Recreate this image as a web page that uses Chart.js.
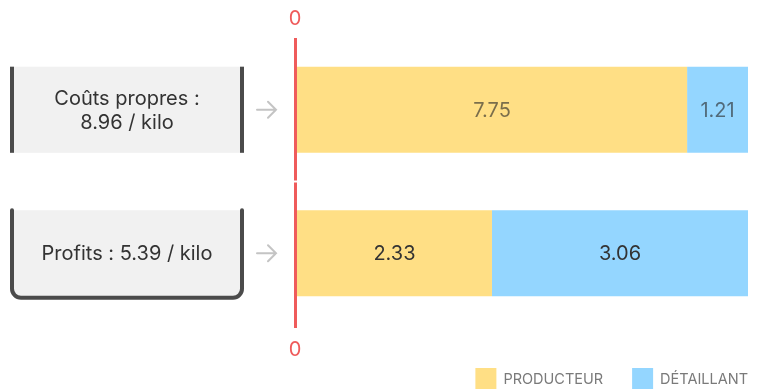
<!DOCTYPE html>
<html>
<head>
<meta charset="utf-8">
<script src="https://cdn.jsdelivr.net/npm/chart.js@4/dist/chart.umd.min.js"></script>
<style>
  html, body { margin: 0; padding: 0; background: #fff; }
  #wrap { width: 765px; height: 389px; position: relative; }
</style>
</head>
<body>
<div id="wrap"><canvas id="c"></canvas></div>
<script>
// Row categories and the text shown in the boxes on the left
const categories = ['Coûts propres', 'Profits'];
const boxLines = [['Coûts propres :', '8.96 / kilo'], ['Profits : 5.39 / kilo']];

// Values per kilo for each share
const producteur = [7.75, 2.33];
const detaillant = [1.21, 3.06];
const seriesNames = ['PRODUCTEUR', 'DÉTAILLANT'];

// Only the origin is labelled on the value axis (above and below the bars)
const axisTicks = [0];

const FONT = 'Inter, "Noto Sans", sans-serif';
const YELLOW = '#ffdf85';
const BLUE = '#94d6ff';
const RED = '#ef5b5b';

// Each row is shown as a 100% bar: segment length = share of the row total
const totals = producteur.map((v, i) => v + detaillant[i]);
const pct = arr => arr.map((v, i) => v / totals[i] * 100);
const rawValues = [producteur, detaillant];
const rowLabelColors = ['rgba(40,40,40,0.62)', '#333333'];

const decorPlugin = {
  id: 'decor',
  beforeDatasetsDraw(chart) {
    const { ctx, scales, chartArea } = chart;
    const xScale = scales.x;
    const x0 = xScale.getPixelForValue(0);
    const yScale = scales.y;
    const meta = chart.getDatasetMeta(0);

    ctx.save();
    // red origin line, one segment per category band
    ctx.fillStyle = RED;
    const half = (yScale.getPixelForValue(1) - yScale.getPixelForValue(0)) / 2;
    categories.forEach((c, i) => {
      const cy = yScale.getPixelForValue(i);
      const last = i === categories.length - 1;
      const top = cy - half + (i === 0 ? 0 : 1);
      const bot = cy + half + (last ? 3 : -1);
      ctx.fillRect(x0 - 3, top, 3, bot - top);
    });

    // origin tick labels above and below the plot
    ctx.font = '20px ' + FONT;
    ctx.textAlign = 'center';
    ctx.textBaseline = 'middle';
    axisTicks.forEach(v => {
      const px = xScale.getPixelForValue(v) - 2;
      ctx.fillText(String(v), px, chartArea.top - 19);
      ctx.fillText(String(v), px, chartArea.bottom + 25);
    });

    // boxes and arrows on the left
    meta.data.forEach((bar, i) => {
      const props = bar.getProps(['y', 'height'], true);
      const top = props.y - props.height / 2;
      const bot = props.y + props.height / 2;
      const left = 10, right = 244;
      ctx.fillStyle = '#f1f1f1';
      ctx.strokeStyle = '#4b4b4b';
      ctx.lineWidth = 4;
      if (i === 0) {
        ctx.fillRect(left, top, right - left, bot - top);
        ctx.fillStyle = '#4b4b4b';
        ctx.fillRect(left, top, 4, bot - top);
        ctx.fillRect(right - 4, top, 4, bot - top);
      } else {
        const r = 9;
        const b = bot + 1.5;
        const outline = () => {
          ctx.beginPath();
          ctx.moveTo(left + 2, top);
          ctx.lineTo(left + 2, b - r);
          ctx.arcTo(left + 2, b, left + 2 + r, b, r);
          ctx.lineTo(right - 2 - r, b);
          ctx.arcTo(right - 2, b, right - 2, b - r, r);
          ctx.lineTo(right - 2, top);
        };
        outline();
        ctx.closePath();
        ctx.fill();
        outline();
        ctx.stroke();
      }
      // box text
      ctx.fillStyle = '#333';
      ctx.font = '20px ' + FONT;
      ctx.textAlign = 'center';
      ctx.textBaseline = 'middle';
      const lines = boxLines[i];
      const lh = 24;
      const cx = (left + right) / 2;
      lines.forEach((t, k) => {
        ctx.fillText(t, cx, props.y + 1 + (k - (lines.length - 1) / 2) * lh);
      });
      // arrow
      ctx.strokeStyle = '#c4c4c4';
      ctx.lineWidth = 2;
      ctx.lineCap = 'round';
      ctx.beginPath();
      ctx.moveTo(257, props.y);
      ctx.lineTo(276, props.y);
      ctx.moveTo(268, props.y - 8);
      ctx.lineTo(276, props.y);
      ctx.lineTo(268, props.y + 8);
      ctx.stroke();
    });
    ctx.restore();
  },
  afterDatasetsDraw(chart) {
    const { ctx } = chart;
    ctx.save();
    ctx.font = '20px ' + FONT;
    ctx.textAlign = 'center';
    ctx.textBaseline = 'middle';
    chart.data.datasets.forEach((ds, d) => {
      chart.getDatasetMeta(d).data.forEach((bar, i) => {
        const p = bar.getProps(['x', 'y', 'base'], true);
        ctx.fillStyle = rowLabelColors[i];
        ctx.fillText(rawValues[d][i].toFixed(2), (p.x + p.base) / 2, p.y + 1);
      });
    });
    ctx.restore();
  },
  afterDraw(chart) {
    // legend at the bottom right, aligned to the end of the bars
    const { ctx, chartArea } = chart;
    ctx.save();
    ctx.font = '14.5px ' + FONT;
    ctx.textBaseline = 'middle';
    ctx.textAlign = 'left';
    const box = 21, gapText = 7, gapItem = 29;
    const items = chart.data.datasets.map(ds => ({ text: ds.label, color: ds.backgroundColor, w: ctx.measureText(ds.label).width }));
    let total = 0;
    items.forEach((it, k) => { total += box + gapText + it.w + (k ? gapItem : 0); });
    let x = chartArea.right - total;
    const y = 368;
    items.forEach((it, k) => {
      if (k) x += gapItem;
      ctx.fillStyle = it.color;
      ctx.fillRect(x, y, box, box);
      x += box + gapText;
      ctx.fillStyle = '#7a7a7a';
      ctx.fillText(it.text, x, y + box / 2 + 1);
      x += it.w;
    });
    ctx.restore();
  }
};

new Chart(document.getElementById('c'), {
  type: 'bar',
  data: {
    labels: categories,
    datasets: [
      { label: seriesNames[0], data: pct(producteur), backgroundColor: YELLOW },
      { label: seriesNames[1], data: pct(detaillant), backgroundColor: BLUE }
    ]
  },
  options: {
    indexAxis: 'y',
    responsive: true,
    maintainAspectRatio: false,
    animation: false,
    layout: { padding: { left: 297, right: 17, top: 38, bottom: 64 } },
    datasets: { bar: { barPercentage: 1, categoryPercentage: 0.6 } },
    scales: {
      x: {
        stacked: true, min: 0, max: 100,
        grid: { display: false, drawTicks: false },
        border: { display: false },
        ticks: { display: false }
      },
      y: { stacked: true, display: false }
    },
    plugins: {
      legend: { display: false },
      tooltip: { enabled: false }
    }
  },
  plugins: [decorPlugin]
});
</script>
</body>
</html>
